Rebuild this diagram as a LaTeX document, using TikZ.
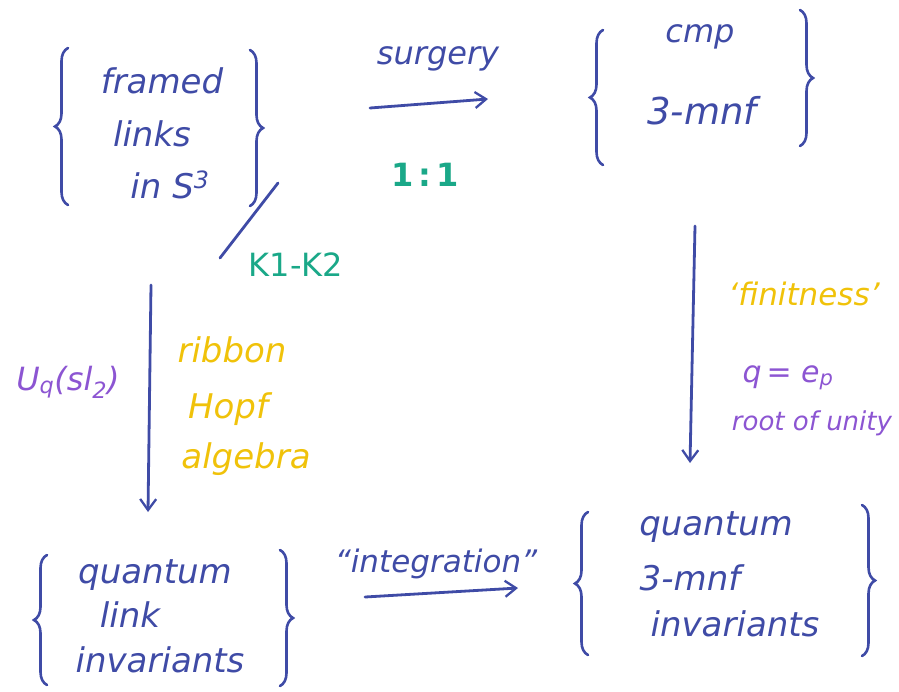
\documentclass[tikz,border=0pt]{standalone}
\usepackage{fontspec}
\setmainfont{DejaVu Sans}
\usetikzlibrary{arrows.meta,decorations.pathreplacing}
\definecolor{ink}{HTML}{3F4BA6}
\definecolor{mygreen}{HTML}{1AA888}
\definecolor{myyellow}{HTML}{F0C20A}
\definecolor{mypurple}{HTML}{8C55D2}
\newcommand{\fs}[1]{\fontsize{#1}{#1}\selectfont\itshape}
\newcommand{\fu}[1]{\fontsize{#1}{#1}\selectfont}
\begin{document}
\begin{tikzpicture}[x=1pt,y=-1pt,
  txt/.style={font=\fs{34}, inner sep=0pt, anchor=base},
  big/.style={txt, text=ink},
  grn/.style={txt, text=mygreen, font=\fu{32}},
  ylw/.style={txt, text=myyellow},
  prp/.style={txt, text=mypurple},
  lbrace/.style={draw=ink, line width=2.6pt, line cap=round, decorate, decoration={brace, amplitude=13pt}},
  pen/.style={draw=ink, line width=2.8pt, line cap=round},
  arr/.style={pen, -{Straight Barb[length=11pt,width=16pt,line width=2.3pt]}}
]
\useasboundingbox (0,0) rectangle (899,691);

% top-left group
\node[big] (fr) at (162,93) {framed};
\node[big] (li) at (152,146) {links};
\node[big] (in) at (170,198) {in S\textsuperscript{3}};
\draw[lbrace] (68,205) -- (68,48);
\draw[lbrace] (250,50) -- (250,206);

% top-right group
\node[big, font=\fs{32}] (cmp) at (700,42) {cmp};
\node[big, font=\fs{37}] (mnf) at (702,124) {3-mnf};
\draw[lbrace] (603,165) -- (603,30);
\draw[lbrace] (800,10) -- (800,146);

% surgery arrow
\coordinate (s1) at (370,108);
\coordinate (s2) at (488,99);
\draw[arr] (s1) -- (s2);
\node[big, font=\fs{32}] (surg) at (438,64) {surgery};
\node[grn] (one) at (425,186) {\bfseries 1\,:\,1};

% slash + K1-K2
\coordinate (k1) at (278,183);
\coordinate (k2) at (220,258);
\draw[pen] (k1) -- (k2);
\node[grn] (kk) at (296,276) {K1-K2};

% left vertical arrow
\coordinate (l1) at (151,285);
\coordinate (l2) at (148,512);
\draw[arr] (l1) -- (l2);
\node[prp, font=\fs{32}] (uq) at (68,390) {U\textsubscript{q}(sl\textsubscript{2})};
\node[ylw] (rib) at (232,362) {ribbon};
\node[ylw] (hopf) at (228,418) {Hopf};
\node[ylw] (alg) at (246,468) {algebra};

% right vertical arrow
\coordinate (r1) at (695,226);
\coordinate (r2) at (690,463);
\draw[arr] (r1) -- (r2);
\node[ylw, font=\fs{31}] (fin) at (804,305) {`finitness'};
\node[prp, font=\fs{30}] (qe) at (788,382) {q\,= e\textsubscript{p}};
\node[prp, font=\fs{26}] (root) at (812,430) {root of unity};

% bottom-left group
\node[big] (q1) at (155,583) {quantum};
\node[big] (lk) at (130,627) {link};
\node[big] (iv1) at (160,672) {invariants};
\draw[lbrace] (47,685) -- (47,555);
\draw[lbrace] (280,550) -- (280,686);

% integration arrow
\coordinate (i1) at (365,597);
\coordinate (i2) at (518,588);
\draw[arr] (i1) -- (i2);
\node[big, font=\fs{31}] (integ) at (436,572) {``integration''};

% bottom-right group
\node[big] (q2) at (716,535) {quantum};
\node[big] (mnf2) at (690,590) {3-mnf};
\node[big] (iv2) at (735,636) {invariants};
\draw[lbrace] (588,655) -- (588,512);
\draw[lbrace] (862,505) -- (862,656);
\end{tikzpicture}
\end{document}
